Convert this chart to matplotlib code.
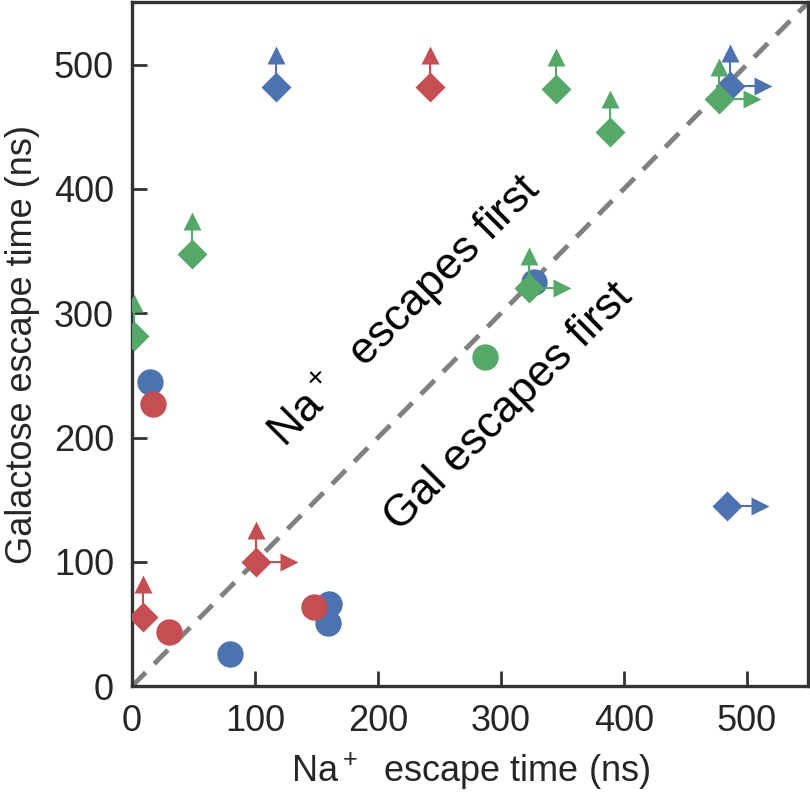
import matplotlib
matplotlib.use('Agg')
import matplotlib.pyplot as plt
import numpy as np

# colours (seaborn "deep")
colors = {'blue': '#4C72B0', 'red': '#C44E52', 'green': '#55A868'}

# escape times (ns): circles = both escaped, diamonds = lower bounds
circ = {
    'blue': ([15, 80, 160, 159, 327], [245, 26, 66, 51, 325]),
    'red': ([17, 30, 148], [227, 44, 64]),
    'green': ([287], [265]),
}
dia = {
    'blue': ([117, 486, 484], [482, 483, 145]),
    'red': ([242, 101, 9], [482, 100, 56]),
    'green': ([345, 389, 477, 49, 2, 323], [480, 446, 472, 348, 282, 320]),
}
# which diamonds carry an "up" (Gal not escaped) / "right" (Na not escaped) arrow
up = {
    'blue': [True, True, False],
    'red': [True, True, True],
    'green': [True, True, True, True, True, True],
}
right = {
    'blue': [False, True, True],
    'red': [False, True, False],
    'green': [False, False, True, False, False, True],
}
xticks = [0, 100, 200, 300, 400, 500]
yticks = [0, 100, 200, 300, 400, 500]

font = ['Liberation Sans', 'DejaVu Sans']
plt.rcParams['font.family'] = font
plt.rcParams['mathtext.fontset'] = 'custom'
plt.rcParams['mathtext.rm'] = 'Liberation Sans'

fig = plt.figure(figsize=(8.1, 7.97), dpi=100)
ax = fig.add_axes([0.163, 0.139, 0.835, 0.858])

ax.plot([0, 550], [0, 550], ls=(0, (4, 2.5)), color='#808080', lw=3.5, zorder=1)

dx, dy = 27, 26
for i, c in enumerate(['blue', 'red', 'green']):
    col = colors[c]
    z = 2 + i
    x, y = dia[c]
    for xi, yi, u, r in zip(x, y, up[c], right[c]):
        if u:
            ax.plot([xi, xi], [yi, yi + dy], color=col, lw=1.5, zorder=z)
            ax.plot(xi, yi + dy, marker='^', ms=13, color=col, mec='none', zorder=z)
        if r:
            ax.plot([xi, xi + dx], [yi, yi], color=col, lw=1.5, zorder=z)
            ax.plot(xi + dx, yi, marker='>', ms=13, color=col, mec='none', zorder=z)
    ax.plot(x, y, 'D', ms=15, color=col, mec='none', ls='none', zorder=z)
    x, y = circ[c]
    ax.plot(x, y, 'o', ms=19, color=col, mec='none', ls='none', zorder=z)

ax.text(221, 303, r'Na$^+$  escapes first', rotation=45, fontsize=32,
        ha='center', va='center', rotation_mode='anchor')
ax.text(306, 224, 'Gal escapes first', rotation=45, fontsize=32,
        ha='center', va='center', rotation_mode='anchor')

ax.set_xlim(0, 550)
ax.set_ylim(0, 550)
ax.set_xticks(xticks)
ax.set_yticks(yticks)
ax.tick_params(direction='in', length=11, width=2, color='#333333',
               labelsize=26, pad=13, labelcolor='#262626')
for s in ax.spines.values():
    s.set_linewidth(2.4)
    s.set_color('#333333')

ax.set_xlabel(r'Na$^+$  escape time (ns)', fontsize=26, color='#262626', labelpad=8)
ax.set_ylabel('Galactose escape time (ns)', fontsize=26, color='#262626', labelpad=10)

fig.savefig('out.png', dpi=100)
